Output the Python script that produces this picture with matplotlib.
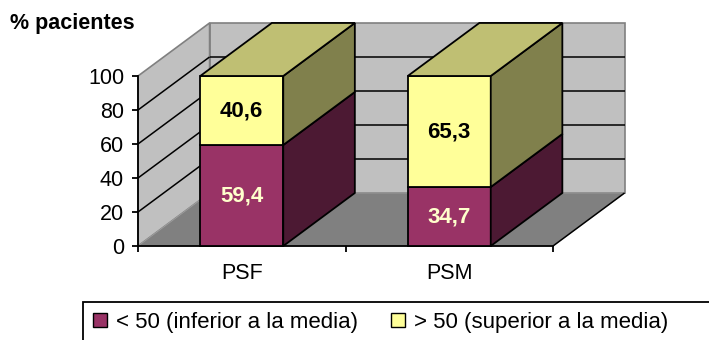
import matplotlib.pyplot as plt
from matplotlib.patches import Polygon, Patch, Rectangle

plt.rcParams['font.family'] = ['Liberation Sans', 'DejaVu Sans']

categories = ["PSF", "PSM"]
below = [59.4, 34.7]   # < 50 (inferior a la media)
above = [40.6, 65.3]   # > 50 (superior a la media)
yticks = [0, 20, 40, 60, 80, 100]
series_names = ["< 50 (inferior a la media)", "> 50 (superior a la media)"]

# colours: front face, top face, side face
purple = ("#993366", "#733F59", "#4C1933")
yellow = ("#FFFF99", "#BFBF73", "#80804C")
wall = "#C0C0C0"
floor = "#808080"

# depth offset of the 3D box (x in category units, y in value units)
dx, dy = 0.345, 31.2
bar_w = 0.4
ymax = 100

fig = plt.figure(figsize=(7.09, 3.4), dpi=100)
ax = fig.add_axes([138 / 709, 94 / 340, 415 / 709, 170 / 340])
ax.set_xlim(0, len(categories))
ax.set_ylim(0, ymax)
ax.patch.set_visible(False)

def poly(pts, fc, ec="none", lw=0, z=1):
    ax.add_patch(Polygon(pts, closed=True, facecolor=fc, edgecolor=ec,
                         linewidth=lw, clip_on=False, zorder=z))

def line(xs, ys, c="black", lw=1.1, z=2):
    ax.plot(xs, ys, color=c, linewidth=lw, clip_on=False, zorder=z,
            solid_capstyle="butt")

n = len(categories)
# back wall, left wall and floor
poly([(dx, dy), (n + dx, dy), (n + dx, ymax + dy), (dx, ymax + dy)],
     wall, "#808080", 1.2)
poly([(0, 0), (dx, dy), (dx, ymax + dy), (0, ymax)], wall, "#808080", 1.2)
poly([(0, 0), (n, 0), (n + dx, dy), (dx, dy)], floor, "#A0A0A0", 0.6)
line([n, n + dx], [0, dy], z=2)

# gridlines on the walls
for v in yticks[1:-1]:
    line([dx, n + dx], [v + dy, v + dy])
    line([0, dx], [v, v + dy])

# stacked 3D bars
for i, cat in enumerate(categories):
    x0 = i + 0.5 - bar_w / 2
    x1 = x0 + bar_w
    segs = [(0, below[i], purple), (below[i], below[i] + above[i], yellow)]
    for j, (y0, y1, cols) in enumerate(segs):
        z = 5 + j
        poly([(x0, y0), (x1, y0), (x1, y1), (x0, y1)], cols[0], "black", 1.3, z)
        poly([(x1, y0), (x1 + dx, y0 + dy), (x1 + dx, y1 + dy), (x1, y1)],
             cols[2], "black", 1.3, z)
        if j == len(segs) - 1:
            poly([(x0, y1), (x1, y1), (x1 + dx, y1 + dy), (x0 + dx, y1 + dy)],
                 cols[1], "black", 1.3, z)
    for v, y0, col in [(below[i], 0, "#FFFFCC"), (above[i], below[i], "black")]:
        ax.text(i + 0.5, y0 + v / 2, f"{v:.1f}".replace(".", ","),
                ha="center", va="center", fontsize=16, fontweight="bold",
                color=col, zorder=10)

# axes
for s in ["top", "right"]:
    ax.spines[s].set_visible(False)
for s in ["left", "bottom"]:
    ax.spines[s].set_linewidth(1.3)
    ax.spines[s].set_zorder(3)
ax.set_yticks(yticks)
ax.tick_params(axis="y", direction="out", length=4, width=1.3, pad=6,
               labelsize=15.5)
ax.set_xticks(range(n + 1))
ax.set_xticklabels([])
ax.set_xticks([i + 0.5 for i in range(n)], minor=True)
ax.set_xticklabels(categories, minor=True)
ax.tick_params(axis="x", which="major", direction="out", length=4.5, width=1.3)
ax.tick_params(axis="x", which="minor", length=0, pad=12, labelsize=15.5)

fig.text(10 / 709, 1 - 24 / 340, "% pacientes", fontsize=15.5,
         fontweight="bold", va="center", ha="left")

# legend: open-ended frame running past the right and bottom edges
fig.add_artist(Rectangle((83 / 709, -0.2), 1.0, 0.2 + 38 / 340,
                         transform=fig.transFigure, fill=False,
                         edgecolor="black", linewidth=1.3))
handles = [Patch(facecolor=purple[0], edgecolor="black", linewidth=1),
           Patch(facecolor=yellow[0], edgecolor="black", linewidth=1)]
leg = fig.legend(handles, series_names, loc="upper left",
                 bbox_to_anchor=(83 / 709, 1 - 302 / 340), ncol=2,
                 fontsize=16, frameon=False,
                 handlelength=0.63, handleheight=0.63, handletextpad=0.4,
                 columnspacing=1.5, borderpad=0.45, borderaxespad=0)

fig.savefig("out.png", dpi=100)
